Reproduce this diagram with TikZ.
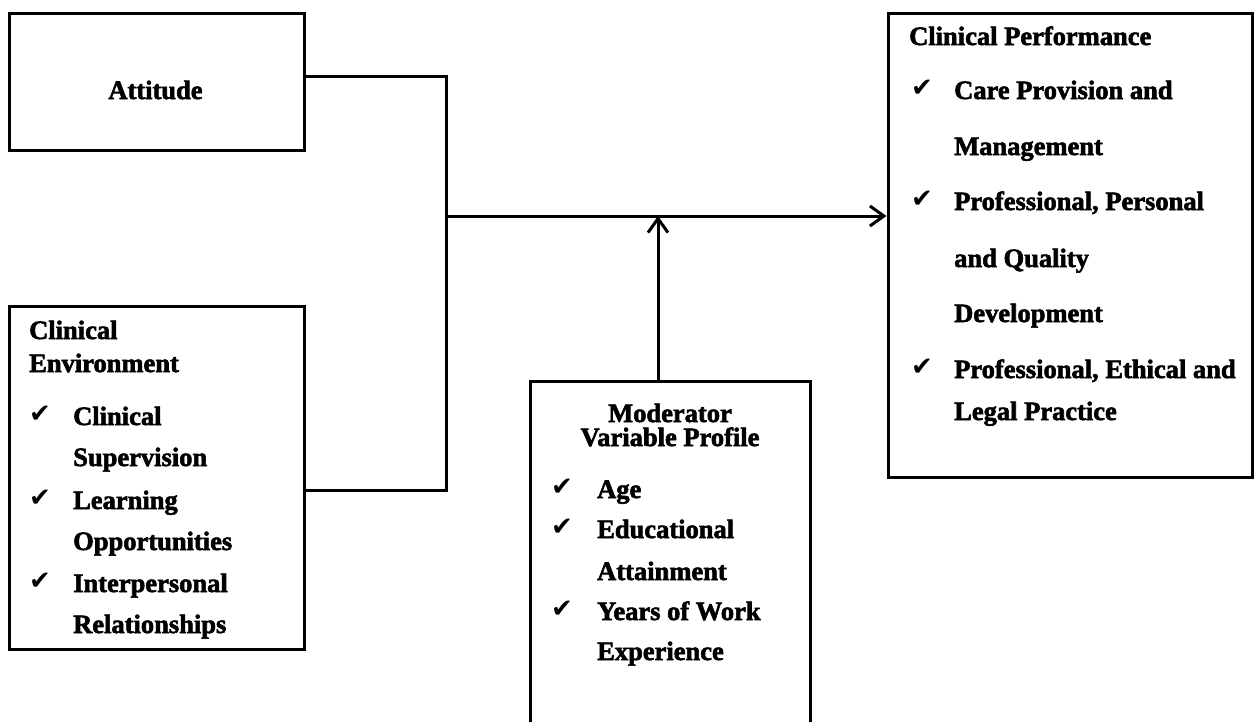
\documentclass[tikz,border=0pt]{standalone}
\usepackage{fontspec}
\setmainfont{Liberation Serif}[BoldFeatures={FakeBold=2.2}]
\newfontfamily\chkfont{DejaVu Sans}
\usetikzlibrary{arrows.meta}
\newcommand{\bodyfnt}{\fontsize{26.5}{30}\selectfont\bfseries}
\begin{document}
\begin{tikzpicture}[x=1pt,y=-1pt,
  box/.style={draw, line width=3pt, rectangle, inner sep=0pt},
  conn/.style={line width=3pt},
  arr/.style={conn, -{Straight Barb[length=14pt,width=20pt,line width=3pt]}},
  txt/.style={anchor=base west, inner sep=0pt, font=\bodyfnt},
  ctxt/.style={anchor=base, inner sep=0pt, font=\bodyfnt},
  chk/.style={anchor=base west, inner sep=0pt, font=\chkfont\fontsize{26}{28}\selectfont}]
\useasboundingbox (0,0) rectangle (1255,721);
\clip (0,0) rectangle (1255,721);
% boxes
\node[box, minimum width=295pt, minimum height=137pt] (att) at (156.5,81.5) {};
\node[box, minimum width=295pt, minimum height=343pt] (env) at (156.5,477.5) {};
\node[box, minimum width=280pt, minimum height=379pt] (mod) at (670,570.5) {};
\node[box, minimum width=364pt, minimum height=464pt] (perf) at (1070,245) {};
% junction coordinates
\coordinate (j1) at (446,76);
\coordinate (j2) at (446,490);
\coordinate (j3) at (446,216);
\coordinate (j4) at (658,216);
% connectors
\draw[conn] (att.east |- j1) -- (j1) -- (j2) -- (env.east |- j2);
\draw[arr] (j3) -- (perf.west |- j3);
\draw[arr] (mod.north -| j4) -- (j4);
% Attitude
\node[ctxt] (tatt) at (155.5,99) {Attitude};
% Clinical Environment
\node[txt] (te1) at (29,339) {Clinical};
\node[txt] (te2) at (29,372) {Environment};
\node[chk] (ce1) at (29,422) {✔};
\node[txt] (ie1) at (73,425) {Clinical};
\node[txt] (ie2) at (73,466) {Supervision};
\node[chk] (ce2) at (29,506) {✔};
\node[txt] (ie3) at (73,509) {Learning};
\node[txt] (ie4) at (73,550) {Opportunities};
\node[chk] (ce3) at (29,589) {✔};
\node[txt] (ie5) at (73,592) {Interpersonal};
\node[txt] (ie6) at (73,633) {Relationships};
% Moderator
\node[ctxt] (tm1) at (670,422) {Moderator};
\node[ctxt] (tm2) at (670,446) {Variable Profile};
\node[chk] (cm1) at (551,495) {✔};
\node[txt] (im1) at (597,498) {Age};
\node[chk] (cm2) at (551,535) {✔};
\node[txt] (im2) at (597,538) {Educational};
\node[txt] (im3) at (597,580) {Attainment};
\node[chk] (cm3) at (551,617) {✔};
\node[txt] (im4) at (597,620) {Years of Work};
\node[txt] (im5) at (597,660) {Experience};
% Clinical Performance
\node[txt] (tp1) at (909,45) {Clinical Performance};
\node[chk] (cp1) at (911,96) {✔};
\node[txt] (ip1) at (954,99) {Care Provision and};
\node[txt] (ip2) at (954,155) {Management};
\node[chk] (cp2) at (911,207) {✔};
\node[txt] (ip3) at (954,210) {Professional, Personal};
\node[txt] (ip4) at (954,267) {and Quality};
\node[txt] (ip5) at (954,322) {Development};
\node[chk] (cp3) at (911,375) {✔};
\node[txt] (ip6) at (954,378) {Professional, Ethical and};
\node[txt] (ip7) at (954,420) {Legal Practice};
\end{tikzpicture}
\end{document}
